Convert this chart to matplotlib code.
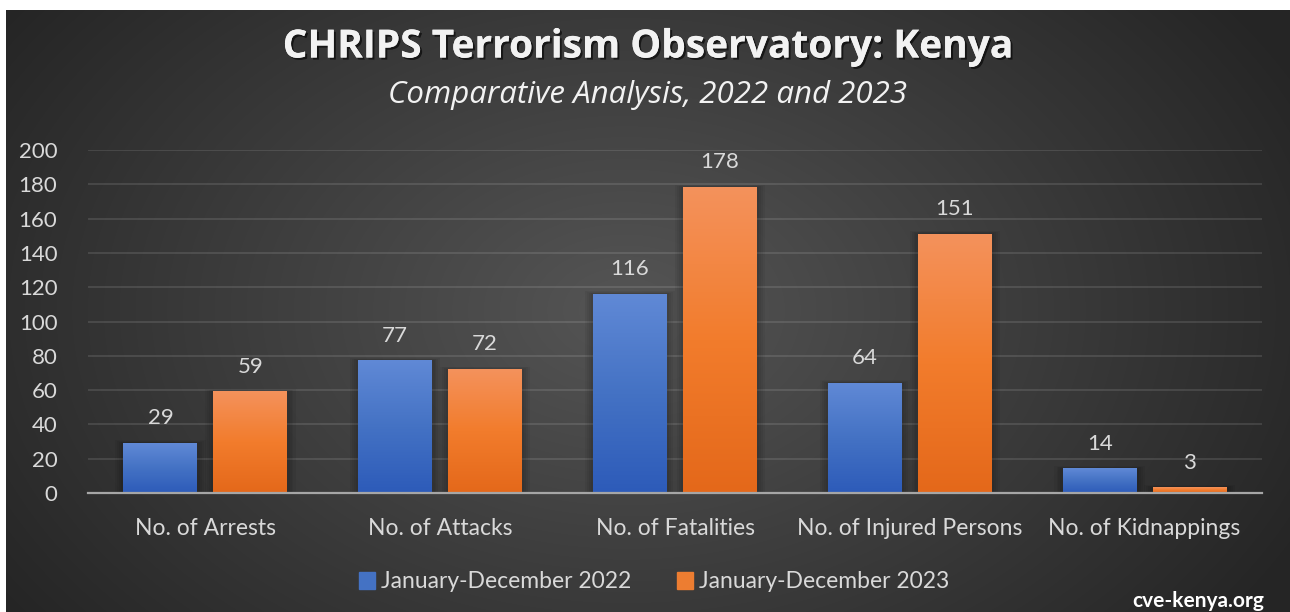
import numpy as np
import matplotlib.pyplot as plt
import matplotlib.patheffects as pe
from matplotlib.colors import LinearSegmentedColormap
from matplotlib.patches import Rectangle

categories = ['No. of Arrests', 'No. of Attacks', 'No. of Fatalities',
              'No. of Injured Persons', 'No. of Kidnappings']
series_names = ['January-December 2022', 'January-December 2023']
values_2022 = [29, 77, 116, 64, 14]
values_2023 = [59, 72, 178, 151, 3]
y_ticks = [0, 20, 40, 60, 80, 100, 120, 140, 160, 180, 200]

plt.rcParams['font.family'] = ['Lato', 'DejaVu Sans']
TXT = '#d9d9d9'

fig = plt.figure(figsize=(12.9, 6.12), dpi=100)
fig.patch.set_facecolor('white')

# dark radial background (white strip left and top like the screenshot)
bg = fig.add_axes([6 / 1290, 0, 1 - 6 / 1290, 1 - 10 / 612], zorder=-10)
yy, xx = np.mgrid[0:602, 0:1284]
d = np.sqrt(((xx - 620) / 760.0) ** 2 + ((yy - 300) / 520.0) ** 2)
d = np.clip(d, 0, 1)
c_in, c_out = np.array([0x55, 0x55, 0x55]) / 255, np.array([0x25, 0x25, 0x25]) / 255
img = c_in[None, None, :] * (1 - d[..., None]) + c_out[None, None, :] * d[..., None]
bg.imshow(img, aspect='auto', interpolation='bilinear')
bg.axis('off')

ax = fig.add_axes([88 / 1290, 119 / 612, 1174 / 1290, 343 / 612])
ax.set_facecolor('none')

x = np.arange(len(categories))
w = 0.315
off = 0.1915
blue_cm = LinearSegmentedColormap.from_list('b', ['#2d5bb9', '#4472c4', '#6089d6'])
orange_cm = LinearSegmentedColormap.from_list('o', ['#e4681a', '#f27c2c', '#f4925c'])

bars1 = ax.bar(x - off, values_2022, w, color='#4472c4', zorder=3, label=series_names[0])
bars2 = ax.bar(x + off, values_2023, w, color='#ed7d31', zorder=3, label=series_names[1])

grad = np.linspace(0, 1, 256).reshape(-1, 1)
for bars, cm in ((bars1, blue_cm), (bars2, orange_cm)):
    for b in bars:
        x0, h, bw = b.get_x(), b.get_height(), b.get_width()
        # soft shadow halo
        for k in (0.035, 0.026, 0.018, 0.010):
            ax.add_patch(Rectangle((x0 - k, 0), bw + 2 * k, h + k * 50,
                                   color='black', alpha=0.05, zorder=2, lw=0))
        ax.imshow(grad, extent=[x0, x0 + bw, 0, h], origin='lower', aspect='auto',
                  cmap=cm, zorder=4, interpolation='bilinear')
        ax.annotate(f'{int(h)}', (x0 + bw / 2, h), xytext=(0, 11),
                    textcoords='offset points', ha='center', va='bottom',
                    color=TXT, fontsize=16)

ax.set_xlim(-0.5, len(categories) - 0.5)
ax.set_ylim(0, 200)
ax.set_yticks(y_ticks)
ax.set_xticks(x)
ax.set_xticklabels(categories)
ax.tick_params(axis='both', length=0, colors=TXT, labelsize=16)
ax.tick_params(axis='x', pad=18, labelsize=16.5)
ax.tick_params(axis='y', pad=22)
ax.grid(axis='y', color='#ffffff', alpha=0.13, lw=1.2, zorder=0)
for s in ['top', 'right', 'left']:
    ax.spines[s].set_visible(False)
ax.spines['bottom'].set_color('#a6a6a6')
ax.spines['bottom'].set_linewidth(1.6)
ax.spines['bottom'].set_zorder(5)

shadow = [pe.withSimplePatchShadow(offset=(1.5, -1.5), shadow_rgbFace='black', alpha=0.6),
          pe.Normal()]
fig.text(0.502, 1 - 47 / 612, 'CHRIPS Terrorism Observatory: Kenya', ha='center',
         va='center', fontsize=28, fontweight='bold', color='#f2f2f2',
         family=['Open Sans', 'DejaVu Sans'], path_effects=shadow)
fig.text(0.502, 1 - 95 / 612, 'Comparative Analysis, 2022 and 2023', ha='center',
         va='center', fontsize=22.5, style='italic', color='#f2f2f2',
         family=['Open Sans', 'DejaVu Sans'])

handles = [Rectangle((0, 0), 1, 1, color='#4472c4'), Rectangle((0, 0), 1, 1, color='#ed7d31')]
fig.legend(handles, series_names, loc='center', bbox_to_anchor=(654 / 1290, 1 - 582 / 612),
           ncol=2, frameon=False, fontsize=16.5, labelcolor=TXT, handlelength=0.7,
           handleheight=0.7, handletextpad=0.25, columnspacing=2.0)

fig.text(1198 / 1290, 5 / 612, 'cve-kenya.org', ha='center', va='baseline',
         fontsize=15, fontweight='bold', color='white')

fig.savefig('out.png', dpi=100)
